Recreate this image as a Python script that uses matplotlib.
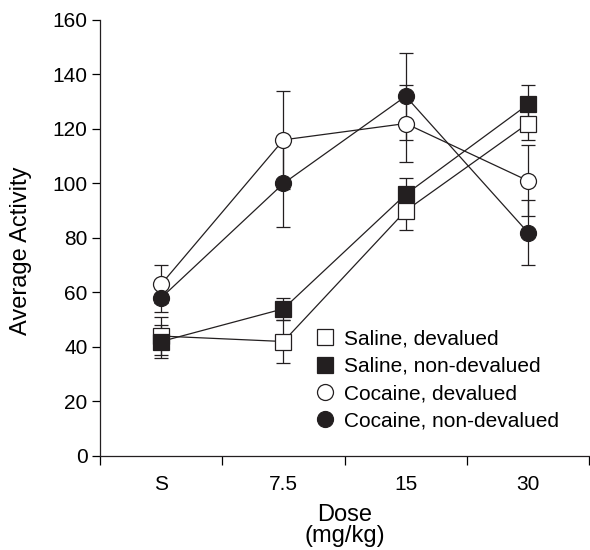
import matplotlib
matplotlib.use('Agg')
import matplotlib.pyplot as plt
import numpy as np

# Data
doses = ['S', '7.5', '15', '30']

sal_dev = [44, 42, 90, 122]
sal_dev_err = [7, 8, 7, 6]
sal_nondev = [42, 54, 96, 129]
sal_nondev_err = [6, 4, 6, 7]
coc_dev = [63, 116, 122, 101]
coc_dev_err = [7, 18, 14, 13]
coc_nondev = [58, 100, 132, 82]
coc_nondev_err = [5, 16, 16, 12]

plt.rcParams['font.family'] = ['Liberation Sans', 'DejaVu Sans']

fig = plt.figure(figsize=(5.9, 5.5), dpi=100)
ax = fig.add_axes([0.1695, 0.171, 0.829, 0.7927])

x = np.arange(len(doses)) + 0.5

series = [
    (sal_dev, sal_dev_err, 's', 'white', 'Saline, devalued'),
    (sal_nondev, sal_nondev_err, 's', '#231f20', 'Saline, non-devalued'),
    (coc_dev, coc_dev_err, 'o', 'white', 'Cocaine, devalued'),
    (coc_nondev, coc_nondev_err, 'o', '#231f20', 'Cocaine, non-devalued'),
]

handles = []
for vals, errs, mk, fc, lab in series:
    ms = 11 if mk == 's' else 11.5
    ax.errorbar(x, vals, yerr=errs, color='#231f20', lw=0.9, elinewidth=0.9,
                capsize=5, capthick=0.9, marker=mk, ms=ms, mfc=fc,
                mec='#231f20', mew=0.9, zorder=3)
    h, = ax.plot([], [], ls='none', marker=mk, ms=ms, mfc=fc,
                 mec='#231f20', mew=0.9)
    handles.append(h)

ax.set_xlim(0, 4)
ax.set_ylim(0, 160)
ax.set_xticks([0, 1, 2, 3, 4])
ax.set_xticklabels([])
ax.set_xticks(x, minor=True)
ax.set_xticklabels(doses, minor=True)
ax.tick_params(axis='x', which='minor', length=0, pad=14, labelsize=15)
ax.tick_params(axis='x', which='major', length=6.5, width=0.9)
ax.set_yticks(np.arange(0, 161, 20))
ax.tick_params(axis='y', length=6, width=0.9, labelsize=15, pad=3)

for s in ['top', 'right']:
    ax.spines[s].set_visible(False)
for s in ['left', 'bottom']:
    ax.spines[s].set_linewidth(0.9)
    ax.spines[s].set_color('#231f20')

ax.set_ylabel('Average Activity', fontsize=17)
ax.yaxis.set_label_coords(-0.139, 0.47)
ax.set_xlabel('Dose\n(mg/kg)', fontsize=17, linespacing=0.95)
ax.xaxis.set_label_coords(0.5, -0.11)

ax.legend(handles, [s[4] for s in series], loc='upper left',
          bbox_to_anchor=(0.435, 0.29), frameon=False, fontsize=15,
          handletextpad=0.3, labelspacing=0.4, borderaxespad=0,
          borderpad=0, handlelength=1.2)

fig.savefig('out.png', dpi=100)
